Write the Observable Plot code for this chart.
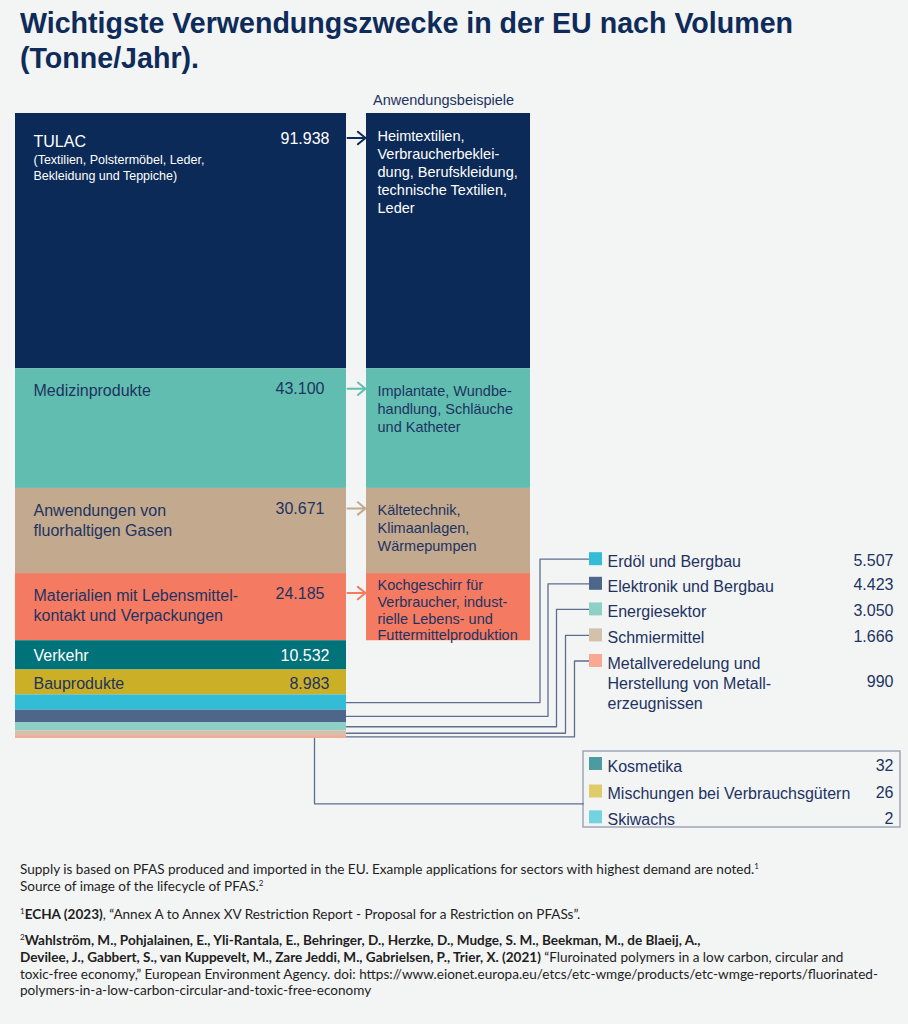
<!DOCTYPE html>
<html>
<head>
<meta charset="utf-8">
<script src="https://cdn.jsdelivr.net/npm/d3@7"></script>
<script src="https://cdn.jsdelivr.net/npm/@observablehq/plot@0.6"></script>
<style>
  html, body { margin: 0; padding: 0; background: #f3f4f4; }
  body { width: 908px; height: 1024px; overflow: hidden; font-family: "Liberation Sans", Arial, sans-serif; }
  #title { font-family: "Liberation Sans", Arial, sans-serif; font-weight: bold; font-size: 28.6px; line-height: 35px;
           color: #0e2b59; padding: 6px 0 0 20px; height: 88px; box-sizing: border-box; white-space: nowrap; }
  #chart svg { display: block; }
  #notes { font-family: Lato, "Liberation Sans", sans-serif; font-size: 13.55px; line-height: 16.7px; color: #1e1e1e;
           padding: 0 0 0 20px; white-space: nowrap; }
  #notes p { margin: 0; }
  #notes sup { font-size: 8px; vertical-align: 5px; line-height: 0; }
</style>
</head>
<body>
<div id="title">Wichtigste Verwendungszwecke in der EU nach Volumen<br>(Tonne/Jahr).</div>
<div id="chart"></div>
<div id="notes">
  <p style="margin-top:13px">Supply is based on PFAS produced and imported in the EU. Example applications for sectors with highest demand are noted.<sup>1</sup><br>Source of image of the lifecycle of PFAS.<sup>2</sup></p>
  <p style="margin-top:11.5px"><sup>1</sup><b>ECHA (2023)</b>, “Annex A to Annex XV Restriction Report - Proposal for a Restriction on PFASs”.</p>
  <p style="margin-top:9.5px"><sup>2</sup><b>Wahlström, M., Pohjalainen, E., Yli-Rantala, E., Behringer, D., Herzke, D., Mudge, S. M., Beekman, M., de Blaeij, A.,</b><br><b>Devilee, J., Gabbert, S., van Kuppevelt, M., Zare Jeddi, M., Gabrielsen, P., Trier, X. (2021)</b> “Fluroinated polymers in a low carbon, circular and<br>toxic-free economy,” European Environment Agency. doi: https://www.eionet.europa.eu/etcs/etc-wmge/products/etc-wmge-reports/fluorinated-<br>polymers-in-a-low-carbon-circular-and-toxic-free-economy</p>
</div>
<script>
// ---------------- data ----------------
const categories = [
  "TULAC",
  "Medizinprodukte",
  "Anwendungen von\nfluorhaltigen Gasen",
  "Materialien mit Lebensmittel-\nkontakt und Verpackungen",
  "Verkehr",
  "Bauprodukte",
  "Erdöl und Bergbau",
  "Elektronik und Bergbau",
  "Energiesektor",
  "Schmiermittel",
  "Metallveredelung und\nHerstellung von Metall-\nerzeugnissen",
  "Kosmetika",
  "Mischungen bei Verbrauchsgütern",
  "Skiwachs"
];
const volumes = [91938, 43100, 30671, 24185, 10532, 8983, 5507, 4423, 3050, 1666, 990, 32, 26, 2];
const sectorColors = ["#0c2a57", "#62bdb1", "#c3a98e", "#f47b61", "#00727a", "#cbb027",
                      "#33bcd5", "#4e6689", "#8ed0c6", "#d4c1ac", "#f8a893", "#4b9ba1", "#e0cb6c", "#74d3e1"];
const tulacDetail = "(Textilien, Polstermöbel, Leder,\nBekleidung und Teppiche)";
const examples = [
  "Heimtextilien,\nVerbraucherbeklei-\ndung, Berufskleidung,\ntechnische Textilien,\nLeder",
  "Implantate, Wundbe-\nhandlung, Schläuche\nund Katheter",
  "Kältetechnik,\nKlimaanlagen,\nWärmepumpen",
  "Kochgeschirr für\nVerbraucher, indust-\nrielle Lebens- und\nFuttermittelproduktion"
];
const examplesTitle = "Anwendungsbeispiele";

// ---------------- layout (pixels) ----------------
const W = 908, H = 760, SVG_TOP = 88;
const BAR_TOP = 113, BAR_PX = 625;
const labelDy = [19.5, 13.5, 14, 14];
const arrowDy = [24.5, 20, 20, 19.5];
const exampleDy = [15, 14.5, 14, 4.5];
const valueRight = [329, 324, 324, 324, 329, 329];
const legendRowY = [560.2, 584.8, 610.4, 636.4, 681.8, 765, 792.5, 818.3];
const swatchY = [558.7, 583.3, 608.9, 634.9, 660.5, 763.5, 791, 816.8];
const elbowX = [539.5, 547.5, 556, 565, 574];
const navy = "#1d3361", connectorColor = "#5f6e8e";

// ---------------- build ----------------
const fmt = d3.formatLocale({decimal: ",", thousands: ".", grouping: [3], currency: ["", "€"]}).format(",d");
let acc = 0;
const rows = volumes.map((v, i) => {
  const s = acc; acc += v;
  return {i, name: categories[i], value: v, label: fmt(v), start: s, end: acc, mid: (s + acc) / 2, color: sectorColors[i]};
});
const total = acc;
const yDomain = [0, total], yRange = [BAR_TOP - SVG_TOP, BAR_TOP - SVG_TOP + BAR_PX];
const yS = Plot.scale({y: {type: "linear", domain: yDomain, range: yRange}});
const P = py => yS.invert(py - SVG_TOP);

const light = new Set([0, 4]); // white text rows
const textFill = d => light.has(d.i) ? "#ffffff" : navy;

const top4 = rows.slice(0, 4);
const legendItems = rows.slice(6).map((r, k) => ({...r, ty: legendRowY[k], sy: swatchY[k]}));

const connectors = [];
rows.slice(6, 11).forEach((r, k) => {
  const ry = P(swatchY[k]);
  connectors.push({k, x: 346, y: r.mid}, {k, x: elbowX[k], y: r.mid}, {k, x: elbowX[k], y: ry}, {k, x: 589, y: ry});
});
connectors.push({k: 9, x: 314, y: total}, {k: 9, x: 314, y: P(803.3)}, {k: 9, x: 583, y: P(803.3)});

const marks = [
  Plot.rect(rows, {x1: () => 15, x2: () => 346, y1: "start", y2: "end", fill: "color"}),
  Plot.rect(top4, {x1: () => 366, x2: () => 530, y1: "start", y2: "end", fill: "color"}),
  ...top4.map((r, k) => Plot.arrow([r], {x1: () => 290, x2: () => 365, y1: "start", y2: "start", dy: arrowDy[k],
      insetStart: 57, stroke: "color", strokeWidth: 2, headLength: 7.4, headAngle: 78})),
  ...top4.map((r, k) => Plot.text([r], {x: () => 33, y: "start", dy: labelDy[k], text: "name", textAnchor: "start",
      lineAnchor: "top", fontSize: 16, lineHeight: 1.22, fill: textFill})),
  ...top4.map((r, k) => Plot.text([r], {x: () => valueRight[k], y: "start", dy: labelDy[k], text: "label", textAnchor: "end",
      lineAnchor: "top", fontSize: 16, fill: textFill})),
  Plot.text([rows[0]], {x: () => 33, y: "start", dy: 38.5, text: () => tulacDetail, textAnchor: "start", lineAnchor: "top",
      fontSize: 12.5, lineHeight: 1.32, fill: "#ffffff"}),
  ...top4.map((r, k) => Plot.text([r], {x: () => 377, y: "start", dy: exampleDy[k], text: () => examples[k], textAnchor: "start",
      lineAnchor: "top", fontSize: 14.5, lineHeight: k === 3 ? 1.16 : 1.23, fill: textFill})),
  Plot.text(rows.slice(4, 6), {x: () => 33, y: "mid", dy: 1, text: "name", textAnchor: "start", lineAnchor: "middle", fontSize: 16, fill: textFill}),
  Plot.text(rows.slice(4, 6), {x: (d) => valueRight[d.i], y: "mid", dy: 1, text: "label", textAnchor: "end", lineAnchor: "middle", fontSize: 16, fill: textFill}),
  Plot.text([examplesTitle], {x: () => 443, y: () => P(99.5), text: d => d, fontSize: 14.5, fill: navy}),
  Plot.rect([0], {x1: () => 583, x2: () => 900, y1: () => P(751), y2: () => P(827), fill: "none", stroke: "#9ea6b6", strokeWidth: 1.5}),
  Plot.line(connectors, {x: "x", y: "y", z: "k", stroke: connectorColor, strokeWidth: 1.3}),
  Plot.rect(legendItems, {x1: () => 589, x2: () => 602, y1: d => P(d.sy - 6.5), y2: d => P(d.sy + 6.5), fill: "color"}),
  Plot.text(legendItems, {x: () => 607, y: d => P(d.ty), text: "name", textAnchor: "start", lineAnchor: "middle",
      fontSize: 16, lineHeight: 1.26, fill: navy}),
  Plot.text(legendItems, {x: () => 893, y: d => P(d.ty), text: "label", textAnchor: "end", lineAnchor: "middle",
      fontSize: 16, fill: navy})
];

const chart = Plot.plot({
  width: W, height: H, margin: 0,
  x: {type: "linear", domain: [0, W], range: [0, W], axis: null},
  y: {type: "linear", domain: yDomain, range: yRange, axis: null},
  color: {type: "identity"},
  style: {background: "transparent", fontFamily: "'Liberation Sans', Arial, sans-serif", overflow: "visible"},
  marks
});
document.getElementById("chart").appendChild(chart);
</script>
</body>
</html>
